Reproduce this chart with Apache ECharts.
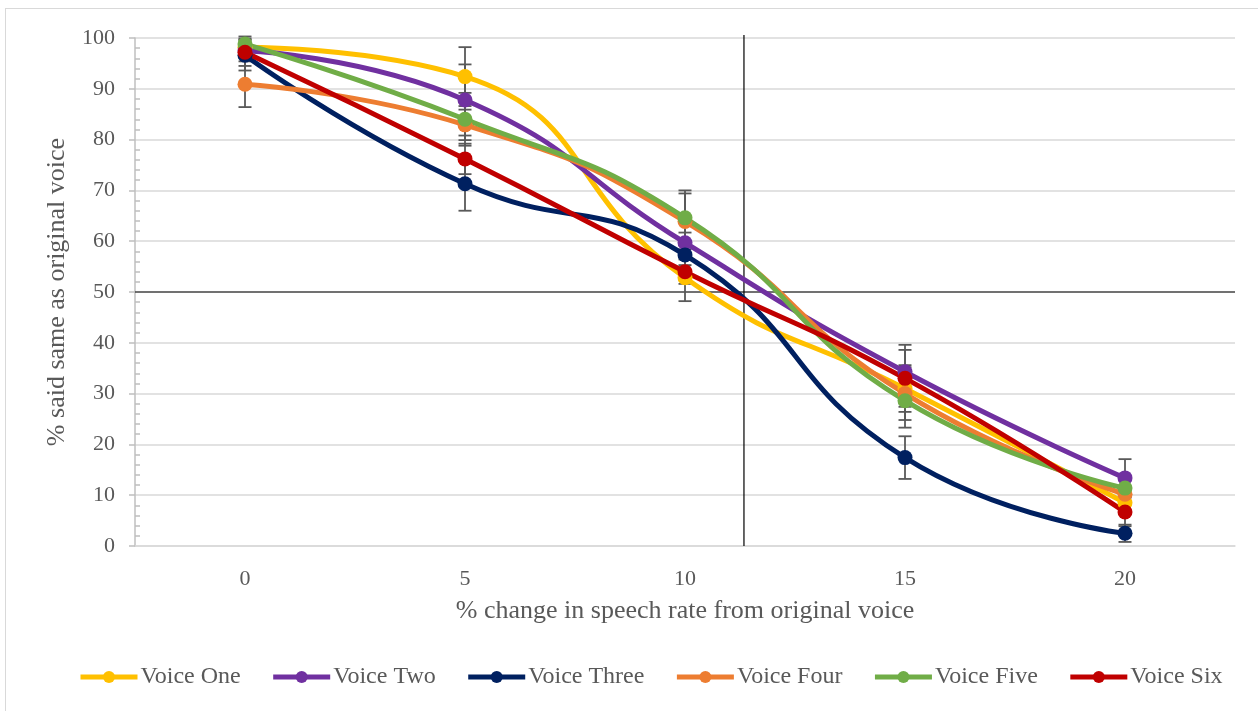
<!DOCTYPE html>
<html>
<head>
<meta charset="utf-8">
<script src="https://cdn.jsdelivr.net/npm/echarts@6/dist/echarts.min.js"></script>
<style>
html,body{margin:0;padding:0;background:#fff;}
#frame{position:absolute;left:5px;top:8px;width:1260px;height:710px;border-left:1px solid #d9d9d9;border-top:1px solid #d9d9d9;}
#chart{position:absolute;left:0;top:0;width:1258px;height:711px;}
</style>
</head>
<body>
<div id="frame"></div>
<div id="chart"></div>
<script>
const categories = ['0', '5', '10', '15', '20'];
const seriesNames = ['Voice One', 'Voice Two', 'Voice Three', 'Voice Four', 'Voice Five', 'Voice Six'];
const voiceOne   = [98.2, 92.4, 52.8, 31.0, 8.5];
const voiceTwo   = [97.5, 87.8, 59.7, 34.3, 13.4];
const voiceThree = [96.6, 71.3, 57.3, 17.4, 2.5];
const voiceFour  = [90.9, 82.9, 63.9, 30.0, 10.2];
const voiceFive  = [98.8, 84.0, 64.6, 28.6, 11.4];
const voiceSix   = [97.2, 76.2, 54.0, 33.0, 6.7];
const errOne   = [1.5, 5.8, 4.6, 4.6, 1.5];
const errTwo   = [1.5, 7.0, 2.0, 5.3, 3.7];
const errThree = [3.0, 5.3, 2.0, 4.2, 1.7];
const errFour  = [4.5, 3.0, 5.5, 5.2, 1.5];
const errFive  = [1.5, 5.2, 5.4, 5.3, 1.5];
const errSix   = [2.7, 3.0, 2.4, 5.6, 2.8];
const refX = 11.34;   // vertical reference line (in % change units)
const refY = 50;      // horizontal reference line
const yTicks = [0, 10, 20, 30, 40, 50, 60, 70, 80, 90, 100];

const colors = ['#FFC000', '#7030A0', '#002060', '#ED7D31', '#70AD47', '#C00000'];
const values = [voiceOne, voiceTwo, voiceThree, voiceFour, voiceFive, voiceSix];
const errors = [errOne, errTwo, errThree, errFour, errFive, errSix];
const FONT = 'Liberation Serif';
const GREY = '#595959';

const chart = echarts.init(document.getElementById('chart'), null, {renderer: 'canvas'});

const series = [];
// error bars
values.forEach((vals, si) => {
  series.push({
    type: 'custom',
    name: seriesNames[si] + ' err',
    xAxisIndex: 0, yAxisIndex: 0,
    z: 2,
    silent: true,
    data: vals.map((v, i) => [i, v - errors[si][i], v + errors[si][i]]),
    renderItem: function (params, api) {
      const x = api.value(0);
      const lo = api.coord([x, api.value(1)]);
      const hi = api.coord([x, api.value(2)]);
      const w = 6.5;
      const st = {stroke: GREY, lineWidth: 1.8};
      return {type: 'group', children: [
        {type: 'line', shape: {x1: lo[0], y1: lo[1], x2: hi[0], y2: hi[1]}, style: st},
        {type: 'line', shape: {x1: lo[0]-w, y1: lo[1], x2: lo[0]+w, y2: lo[1]}, style: st},
        {type: 'line', shape: {x1: hi[0]-w, y1: hi[1], x2: hi[0]+w, y2: hi[1]}, style: st}
      ]};
    }
  });
});
// reference lines
series.push({
  type: 'line', xAxisIndex: 1, yAxisIndex: 0, silent: true, clip: false, z: 1,
  symbol: 'none', lineStyle: {color: '#000', width: 1.2},
  data: [[refX, 0], [refX, 100.6]]
});
series.push({
  type: 'line', xAxisIndex: 1, yAxisIndex: 0, silent: true, clip: false, z: 1,
  symbol: 'none', lineStyle: {color: '#000', width: 1.2},
  data: [[-2.5, refY], [22.5, refY]]
});
// main lines
values.forEach((vals, si) => {
  series.push({
    type: 'line',
    name: seriesNames[si],
    xAxisIndex: 0, yAxisIndex: 0,
    data: vals,
    smooth: 0.5,
    z: 3,
    symbol: 'circle',
    symbolSize: 15,
    color: colors[si],
    itemStyle: {color: colors[si]},
    lineStyle: {color: colors[si], width: 5},
    emphasis: {disabled: true}
  });
});

chart.setOption({
  animation: false,
  backgroundColor: 'transparent',
  grid: {left: 135, right: 23, top: 38, bottom: 165, containLabel: false},
  legend: {
    data: seriesNames,
    left: 73,
    top: 660,
    itemWidth: 57,
    itemHeight: 15,
    itemGap: 30,
    lineStyle: {width: 5},
    textStyle: {fontFamily: FONT, fontSize: 24, color: GREY, padding: [0, 0, 0, -2]}
  },
  xAxis: [{
    type: 'category',
    data: categories,
    boundaryGap: true,
    axisLine: {onZero: false, lineStyle: {color: '#d9d9d9', width: 1.5}},
    axisTick: {show: false},
    axisLabel: {fontFamily: FONT, fontSize: 22, color: GREY, margin: 22},
    name: '% change in speech rate from original voice',
    nameLocation: 'middle',
    nameGap: 52,
    nameTextStyle: {fontFamily: FONT, fontSize: 26, color: GREY}
  }, {
    type: 'value', min: -2.5, max: 22.5, show: false
  }],
  yAxis: [{
    type: 'value',
    min: 0, max: 100, interval: 10,
    axisLine: {show: true, onZero: false, lineStyle: {color: '#bfbfbf', width: 1.5}},
    axisTick: {show: true, inside: false, length: 6, lineStyle: {color: '#bfbfbf', width: 1.5}},
    splitLine: {lineStyle: {color: '#d9d9d9', width: 1.5}},
    axisLabel: {fontFamily: FONT, fontSize: 22, color: GREY, margin: 20,
      formatter: v => yTicks.includes(v) ? String(v) : ''},
    name: '% said same as original voice',
    nameLocation: 'middle',
    nameGap: 65,
    nameTextStyle: {fontFamily: FONT, fontSize: 26, color: GREY}
  }, {
    type: 'value',
    min: 0, max: 100, interval: 10,
    position: 'left',
    axisLine: {show: false, onZero: false},
    axisTick: {show: false, inside: true},
    minorTick: {show: true, splitNumber: 5, length: 5, lineStyle: {color: '#bfbfbf', width: 1.5}},
    splitLine: {show: false},
    axisLabel: {show: false}
  }],
  series: series
});
</script>
</body>
</html>
